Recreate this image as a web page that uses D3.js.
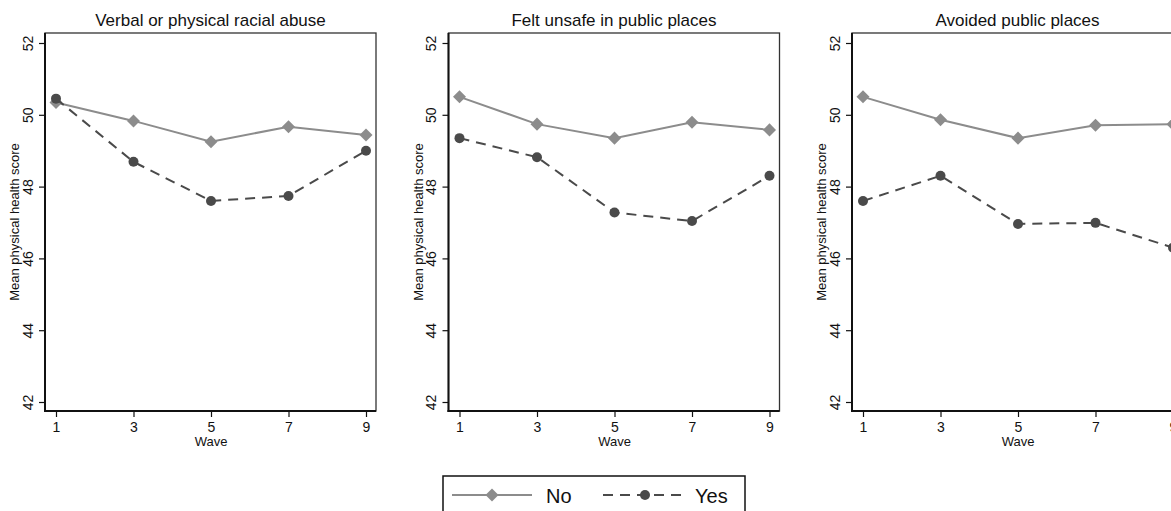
<!DOCTYPE html>
<html>
<head>
<meta charset="utf-8">
<script src="https://cdn.jsdelivr.net/npm/d3@7"></script>
<style>
  body { margin: 0; background: #fff; overflow: hidden; }
  svg { display: block; font-family: Arial, 'Liberation Sans', sans-serif; }
</style>
</head>
<body>
<svg width="1171" height="511"></svg>
<script>
const waves = [1, 3, 5, 7, 9]
const yTicks = [42, 44, 46, 48, 50, 52]
const titles = ['Verbal or physical racial abuse', 'Felt unsafe in public places', 'Avoided public places']
const noValues = [
    [50.34, 49.83, 49.25, 49.67, 49.44],
    [50.50, 49.74, 49.35, 49.79, 49.58],
    [50.50, 49.86, 49.35, 49.71, 49.74]
]
const yesValues = [
    [50.45, 48.69, 47.60, 47.74, 49.00],
    [49.35, 48.82, 47.28, 47.04, 48.30],
    [47.60, 48.30, 46.96, 46.99, 46.30]
]
const seriesNames = ['No', 'Yes']

const NO_COLOR = '#8c8c8c'
const YES_COLOR = '#4a4a4a'

let svg = d3.select('svg')
const panelLeft = [45, 448.5, 852]
const plotTop = 33
const plotW = 331
const plotH = 378

let xScale = d3.scaleLinear().domain([1, 9]).range([11, 321])
let yScale = d3.scaleLinear().domain([42, 52]).range([369, 10])

let line = d3.line()
    .x((d, i) => xScale(waves[i]))
    .y(d => yScale(d))

// square turned 45 degrees, like the stata diamond
let diamond = d3.symbol().type(d3.symbolSquare).size(85)

titles.forEach(function (title, p) {
    let g = svg.append('g').attr('transform', `translate(${panelLeft[p]},${plotTop})`)

    // plot region outline
    g.append('rect')
        .attr('width', plotW).attr('height', plotH)
        .attr('fill', 'none').attr('stroke', '#333').attr('stroke-width', 1.3)

    // y axis
    let yAxis = g.append('g').call(d3.axisLeft(yScale).tickValues(yTicks).tickSize(6).tickSizeOuter(0).tickFormat(d3.format('d')))
    yAxis.select('.domain').remove()
    yAxis.selectAll('line').attr('stroke', '#111').attr('stroke-width', 1.2)
    yAxis.selectAll('text')
        .attr('transform', 'rotate(-90, -16, 0)')
        .attr('x', -16).attr('y', 0).attr('dy', 0)
        .attr('text-anchor', 'middle').attr('dominant-baseline', 'middle')
        .style('font-size', '14px').attr('fill', '#111')

    // x axis
    let xAxis = g.append('g').attr('transform', `translate(0,${plotH})`)
        .call(d3.axisBottom(xScale).tickValues(waves).tickSize(6).tickSizeOuter(0))
    xAxis.select('.domain').remove()
    xAxis.selectAll('line').attr('stroke', '#111').attr('stroke-width', 1.2)
    xAxis.selectAll('text').attr('y', 11).style('font-size', '14px').attr('fill', '#111')

    // axis lines
    g.append('line').attr('x1', 0).attr('x2', 0).attr('y1', 0).attr('y2', plotH + 1)
        .attr('stroke', '#111').attr('stroke-width', 2)
    g.append('line').attr('x1', -1).attr('x2', plotW).attr('y1', plotH).attr('y2', plotH)
        .attr('stroke', '#111').attr('stroke-width', 2)

    g.append('text')
        .attr('x', (xScale(5))).attr('y', plotH + 35)
        .attr('text-anchor', 'middle').style('font-size', '13px').attr('fill', '#111')
        .text('Wave')
    g.append('text')
        .attr('transform', `rotate(-90) translate(${-plotH / 2},-26)`)
        .attr('text-anchor', 'middle').style('font-size', '13px').attr('fill', '#111')
        .text('Mean physical health score')
    g.append('text')
        .attr('x', plotW / 2).attr('y', -7)
        .attr('text-anchor', 'middle').style('font-size', '17px').attr('fill', '#111')
        .text(title)

    // No series
    g.append('path').datum(noValues[p])
        .attr('d', line).attr('fill', 'none')
        .attr('stroke', NO_COLOR).attr('stroke-width', 2)
    g.selectAll('.no-mark')
        .data(noValues[p])
        .enter()
        .append('path')
        .attr('class', 'no-mark')
        .attr('d', diamond)
        .attr('transform', (d, i) => `translate(${xScale(waves[i])},${yScale(d)}) rotate(45)`)
        .attr('fill', NO_COLOR)

    // Yes series
    g.append('path').datum(yesValues[p])
        .attr('d', line).attr('fill', 'none')
        .attr('stroke', YES_COLOR).attr('stroke-width', 2)
        .attr('stroke-dasharray', '10,7')
    g.selectAll('.yes-mark')
        .data(yesValues[p])
        .enter()
        .append('circle')
        .attr('class', 'yes-mark')
        .attr('cx', (d, i) => xScale(waves[i]))
        .attr('cy', d => yScale(d))
        .attr('r', 5)
        .attr('fill', YES_COLOR)
})

// legend
let legend = svg.append('g').attr('transform', 'translate(443,476)')
legend.append('rect')
    .attr('width', 302).attr('height', 60)
    .attr('fill', '#fff').attr('stroke', '#111').attr('stroke-width', 1.5)
let ly = 19
legend.append('line').attr('x1', 9).attr('x2', 89).attr('y1', ly).attr('y2', ly)
    .attr('stroke', NO_COLOR).attr('stroke-width', 2)
legend.append('path').attr('d', diamond).attr('transform', `translate(49,${ly}) rotate(45)`).attr('fill', NO_COLOR)
legend.append('text').attr('x', 103).attr('y', 27).style('font-size', '20px').attr('fill', '#111').text(seriesNames[0])
legend.append('line').attr('x1', 160).attr('x2', 242).attr('y1', ly).attr('y2', ly)
    .attr('stroke', YES_COLOR).attr('stroke-width', 2).attr('stroke-dasharray', '10,7')
legend.append('circle').attr('cx', 202).attr('cy', ly).attr('r', 5).attr('fill', YES_COLOR)
legend.append('text').attr('x', 252).attr('y', 27).style('font-size', '20px').attr('fill', '#111').text(seriesNames[1])
</script>
</body>
</html>
